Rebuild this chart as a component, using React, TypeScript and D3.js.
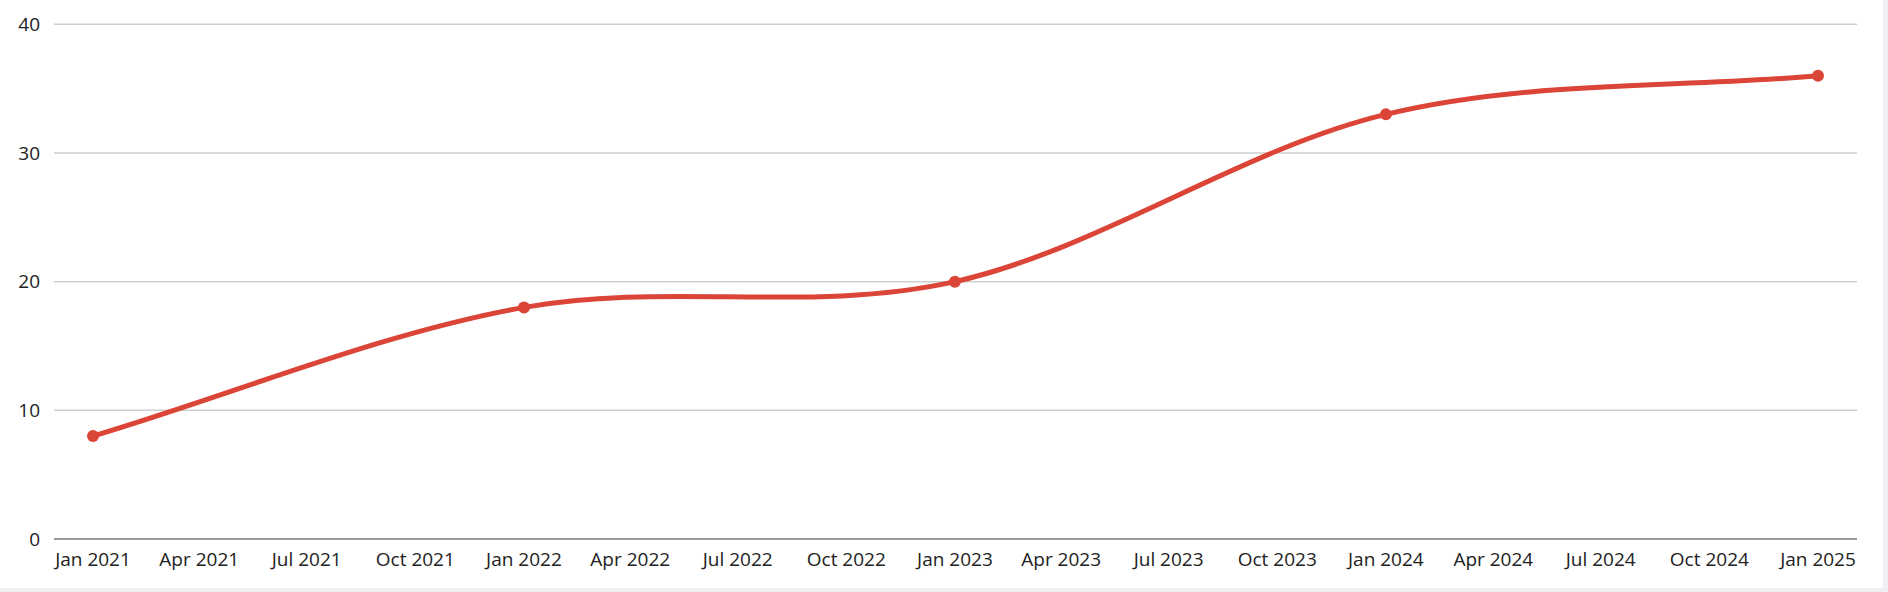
import React, { useEffect, useRef } from 'react';
import * as d3 from 'd3';

// values
const dates = [
  new Date(2021, 0, 1),
  new Date(2022, 0, 1),
  new Date(2023, 0, 1),
  new Date(2024, 0, 1),
  new Date(2025, 0, 1),
];
const values = [8, 18, 20, 33, 36];
const yTicks = [0, 10, 20, 30, 40];

const W = 1888;
const H = 592;
const FONT = '"Open Sans", "Noto Sans", sans-serif';
const RED = '#db4537';

type Pt = { x: number; y: number };

// cubic hermite: inner tangents = mean of neighbouring secants, ends = secant
function smoothPath(pts: Pt[]) {
  const n = pts.length;
  const sec: number[] = [];
  for (let i = 0; i < n - 1; i++) {
    sec.push((pts[i + 1].y - pts[i].y) / (pts[i + 1].x - pts[i].x));
  }
  const m = pts.map((_, i) => {
    if (i === 0) return sec[0];
    if (i === n - 1) return sec[n - 2];
    return (sec[i - 1] + sec[i]) / 2;
  });
  const p = d3.path();
  p.moveTo(pts[0].x, pts[0].y);
  for (let i = 0; i < n - 1; i++) {
    const a = pts[i];
    const b = pts[i + 1];
    const dx = (b.x - a.x) / 3;
    p.bezierCurveTo(a.x + dx, a.y + m[i] * dx, b.x - dx, b.y - m[i + 1] * dx, b.x, b.y);
  }
  return p.toString();
}

const App: React.FC = () => {
  const ref = useRef<SVGSVGElement>(null);

  useEffect(() => {
    document.body.style.margin = '0';
    const svg = d3.select(ref.current);
    svg.selectAll('*').remove();

    svg.append('rect').attr('width', W).attr('height', H).attr('fill', '#eef0f3');
    svg.append('rect').attr('width', 1883).attr('height', 588).attr('fill', '#fff');

    const gridLeft = 54;
    const gridRight = 1857;

    const x = d3.scaleTime()
      .domain([dates[0], dates[dates.length - 1]])
      .range([93, 1818]);

    const y = d3.scaleLinear()
      .domain([0, 40])
      .range([539, 24.3]);

    // grid
    svg.append('g')
      .selectAll('line')
      .data(yTicks)
      .join('line')
      .attr('x1', gridLeft)
      .attr('x2', gridRight)
      .attr('y1', d => y(d))
      .attr('y2', d => y(d))
      .attr('stroke', d => (d === 0 ? '#7a7a7a' : '#cfcfcf'))
      .attr('stroke-width', 1.5);

    // y labels
    svg.append('g')
      .selectAll('text')
      .data(yTicks)
      .join('text')
      .attr('x', 40)
      .attr('y', d => y(d))
      .attr('dy', '0.36em')
      .attr('text-anchor', 'end')
      .attr('font-family', FONT)
      .attr('font-size', 19)
      .attr('fill', '#222')
      .text(d => d);

    // x labels
    const fmt = d3.timeFormat('%b %Y');
    svg.append('g')
      .selectAll('text')
      .data(x.ticks(d3.timeMonth.every(3)!))
      .join('text')
      .attr('x', d => x(d))
      .attr('y', 566)
      .attr('text-anchor', 'middle')
      .attr('font-family', FONT)
      .attr('font-size', 19)
      .attr('fill', '#222')
      .text(d => fmt(d));

    const pts = dates.map((d, i) => ({ x: x(d), y: y(values[i]) }));

    svg.append('path')
      .attr('d', smoothPath(pts))
      .attr('fill', 'none')
      .attr('stroke', RED)
      .attr('stroke-width', 5)
      .attr('stroke-linecap', 'round');

    svg.append('g')
      .selectAll('circle')
      .data(pts)
      .join('circle')
      .attr('cx', d => d.x)
      .attr('cy', d => d.y)
      .attr('r', 6)
      .attr('fill', RED);
  }, []);

  return <svg ref={ref} width={W} height={H} style={{ display: 'block' }} />;
};

export default App;
